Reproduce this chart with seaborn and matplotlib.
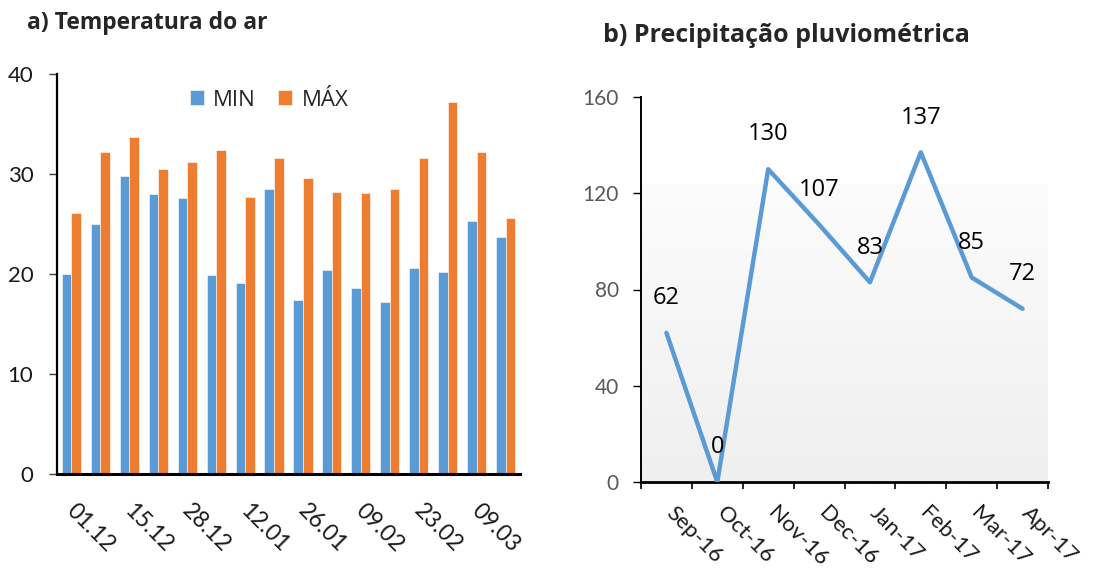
import numpy as np
import pandas as pd
import matplotlib
matplotlib.use("Agg")
import matplotlib.pyplot as plt
import matplotlib.transforms as mtransforms
from matplotlib.colors import LinearSegmentedColormap
import seaborn as sns

# ---- data: panel a ----
dates = ["01.12", "08.12", "15.12", "22.12", "28.12", "05.01", "12.01", "19.01",
         "26.01", "02.02", "09.02", "16.02", "23.02", "02.03", "09.03", "16.03"]
tmin = [20.0, 25.0, 29.8, 28.0, 27.6, 19.9, 19.1, 28.5,
        17.4, 20.4, 18.6, 17.2, 20.6, 20.2, 25.3, 23.7]
tmax = [26.1, 32.2, 33.7, 30.5, 31.2, 32.4, 27.7, 31.6,
        29.6, 28.2, 28.1, 28.5, 31.6, 37.2, 32.2, 25.6]
shown_dates = ["01.12", "15.12", "28.12", "12.01", "26.01", "09.02", "23.02", "09.03"]

# ---- data: panel b ----
months = ["Sep-16", "Oct-16", "Nov-16", "Dec-16", "Jan-17", "Feb-17", "Mar-17", "Apr-17"]
rain = [62, 0, 130, 107, 83, 137, 85, 72]

BLUE = "#5B9BD5"
ORANGE = "#ED7D31"

sns.set_style("white")
plt.rcParams["font.family"] = ["Lato", "DejaVu Sans"]

fig = plt.figure(figsize=(11.19, 5.68), dpi=100)
axA = fig.add_axes([57/1119, 1-474/568, 463/1119, 400/568])
axB = fig.add_axes([641/1119, 1-482/568, 407/1119, 385/568])

# ---------- panel a ----------
dfA = pd.DataFrame({
    "data": dates * 2,
    "valor": tmin + tmax,
    "serie": ["MIN"] * len(dates) + ["MÁX"] * len(dates),
})
sns.barplot(data=dfA, x="data", y="valor", hue="serie", order=dates,
            hue_order=["MIN", "MÁX"], palette=[BLUE, ORANGE], width=0.66,
            edgecolor="white", linewidth=0.4, ax=axA, saturation=1)
axA.set_ylim(0, 40)
axA.set_xlim(-0.5, len(dates) - 0.5)
axA.set_yticks([0, 10, 20, 30, 40])
axA.tick_params(axis="y", length=6, width=1, color="#404040", labelsize=16,
                pad=11, labelcolor="#1a1a1a", direction="out", left=True)
pos = [dates.index(d) for d in shown_dates]
axA.set_xticks(pos)
axA.set_xticklabels(shown_dates, rotation=-45, ha="left", va="top",
                    rotation_mode="anchor", fontsize=16.5, color="#1a1a1a")
axA.tick_params(axis="x", length=0, pad=19)
shiftA = mtransforms.ScaledTranslation(6/100, 0, fig.dpi_scale_trans)
for lab in axA.get_xticklabels():
    lab.set_transform(lab.get_transform() + shiftA)
axA.set_xlabel("")
axA.set_ylabel("")
for s in ["top", "right"]:
    axA.spines[s].set_visible(False)
axA.spines["left"].set_color("black")
axA.spines["left"].set_linewidth(1.6)
axA.spines["bottom"].set_color("black")
axA.spines["bottom"].set_linewidth(2.2)
leg = axA.legend(loc="center", bbox_to_anchor=(269/1119, 1-100/568),
                 bbox_transform=fig.transFigure, ncol=2,
                 frameon=False, fontsize=16, handlelength=0.65, handleheight=0.65,
                 handletextpad=0.4, columnspacing=1.0, borderpad=0)
for t in leg.get_texts():
    t.set_family(["Open Sans", "DejaVu Sans"])
fig.text(27/1119, 1-23/568, "a) Temperatura do ar", fontsize=16.5, fontweight="bold",
         family=["Open Sans", "DejaVu Sans"], ha="left", va="center")

# ---------- panel b ----------
dfB = pd.DataFrame({"mes": months, "chuva": rain})
xs = np.arange(len(months))
axB.set_xlim(-0.5, len(months) - 0.5)
cmap = LinearSegmentedColormap.from_list("g", ["#efefef", "#fcfcfc"])
grad = np.linspace(0, 1, 256).reshape(-1, 1)
axB.imshow(grad, extent=(-0.5, len(months) - 0.5, 0, 123.5), cmap=cmap,
           aspect="auto", zorder=0, origin="lower")
axB.set_ylim(0, 160)
sns.lineplot(x=xs, y=dfB["chuva"].values, color=BLUE, linewidth=3.2, ax=axB,
             zorder=3)
for x, v in zip(xs, rain):
    axB.annotate(f"{v}", (x, v), xytext=(0, 25), textcoords="offset points",
                 ha="center", va="center", fontsize=17, color="black",
                 family=["Open Sans", "DejaVu Sans"], zorder=4)
axB.set_yticks([0, 40, 80, 120, 160])
axB.tick_params(axis="y", length=6, width=1, color="black", labelsize=15,
                pad=10, labelcolor="#595959", left=True)
axB.set_xticks(np.arange(-0.5, len(months)), minor=False)
axB.set_xticklabels([])
axB.set_xticks(xs, minor=True)
axB.set_xticklabels(months, minor=True, rotation=-45, ha="left", va="top",
                    rotation_mode="anchor", fontsize=16, color="#1a1a1a")
axB.tick_params(axis="x", which="major", length=5, width=1.2, color="black",
                bottom=True)
axB.tick_params(axis="x", which="minor", length=0, pad=15)
shiftB = mtransforms.ScaledTranslation(10/100, 0, fig.dpi_scale_trans)
for lab in axB.get_xticklabels(minor=True):
    lab.set_transform(lab.get_transform() + shiftB)
axB.set_xlabel("")
axB.set_ylabel("")
for s in ["top", "right"]:
    axB.spines[s].set_visible(False)
axB.spines["left"].set_color("black")
axB.spines["left"].set_linewidth(1.4)
axB.spines["bottom"].set_color("black")
axB.spines["bottom"].set_linewidth(2.0)
fig.text(603/1119, 1-36/568, "b) Precipitação pluviométrica", fontsize=18,
         fontweight="bold", family=["Open Sans", "DejaVu Sans"], ha="left",
         va="center")

fig.savefig("out.png", dpi=100, facecolor="white")
